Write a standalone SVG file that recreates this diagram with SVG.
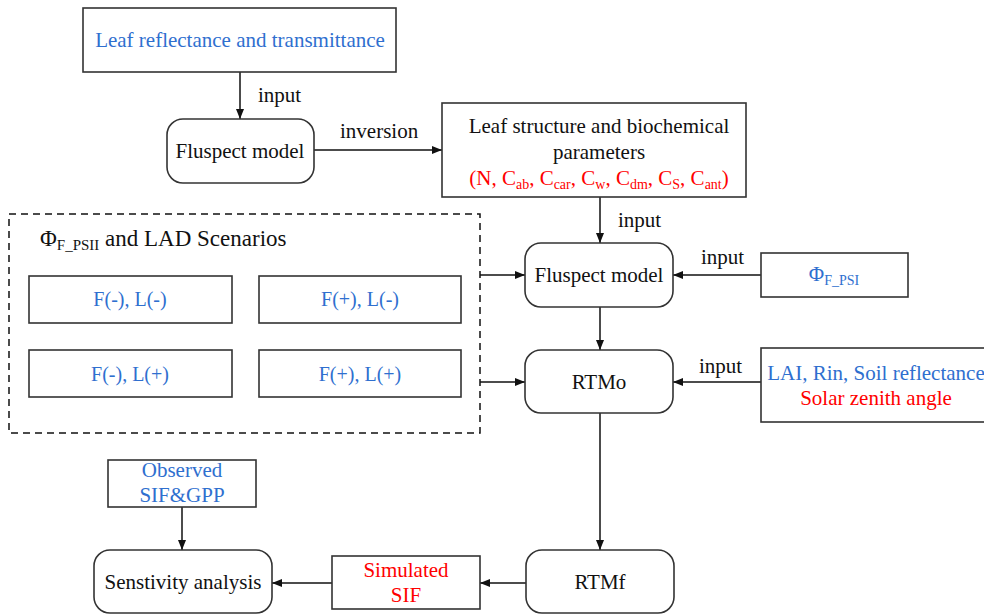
<svg xmlns="http://www.w3.org/2000/svg" width="984" height="615" viewBox="0 0 984 615">
<style>
text{font-family:"Liberation Serif","Times New Roman",serif;font-size:21px;fill:#111}
.b{fill:#2f6fcf}
.r{fill:#ff0000}
.m{text-anchor:middle}
.s20{font-size:20px}
.box{fill:#fff;stroke:#333;stroke-width:1.6}
.ln{fill:none;stroke:#111;stroke-width:1.5}
.sub{font-size:14px}
</style>
<defs>
<marker id="ah" viewBox="0 0 10 10" refX="10" refY="5" markerWidth="10" markerHeight="10" markerUnits="userSpaceOnUse" orient="auto">
<path d="M0,1 L10,5 L0,9 Z" fill="#111"/>
</marker>
</defs>
<g id="connectors">
<line class="ln" x1="240" y1="72" x2="240" y2="119" marker-end="url(#ah)"/>
<line class="ln" x1="314" y1="150" x2="442" y2="150" marker-end="url(#ah)"/>
<line class="ln" x1="600" y1="197" x2="600" y2="243" marker-end="url(#ah)"/>
<line class="ln" x1="600" y1="307" x2="600" y2="350" marker-end="url(#ah)"/>
<line class="ln" x1="480" y1="275" x2="525" y2="275" marker-end="url(#ah)"/>
<line class="ln" x1="480" y1="382" x2="525" y2="382" marker-end="url(#ah)"/>
<line class="ln" x1="761" y1="275" x2="673" y2="275" marker-end="url(#ah)"/>
<line class="ln" x1="761" y1="382" x2="673" y2="382" marker-end="url(#ah)"/>
<line class="ln" x1="600" y1="413" x2="600" y2="550" marker-end="url(#ah)"/>
<line class="ln" x1="182" y1="507" x2="182" y2="550" marker-end="url(#ah)"/>
<line class="ln" x1="526" y1="583" x2="480" y2="583" marker-end="url(#ah)"/>
<line class="ln" x1="332" y1="583" x2="272" y2="583" marker-end="url(#ah)"/>
<text x="258" y="102">input</text>
<text x="340" y="138">inversion</text>
<text x="618" y="227">input</text>
<text x="701" y="264">input</text>
<text x="699" y="373">input</text>
</g>
<g id="leaf-rt">
<rect class="box" x="83" y="8" width="313" height="64"/>
<text class="b m" x="240" y="47">Leaf reflectance and transmittance</text>
</g>
<g id="fluspect1">
<rect class="box" x="167" y="119" width="147" height="64" rx="16"/>
<text class="m" x="240" y="158">Fluspect model</text>
</g>
<g id="leaf-params">
<rect class="box" x="442" y="103" width="304" height="94"/>
<text class="m" x="599" y="133">Leaf structure and biochemical</text>
<text class="m" x="599" y="159">parameters</text>
<text class="r m" x="599" y="185">(N, C<tspan class="sub" dy="4">ab</tspan><tspan dy="-4">, C</tspan><tspan class="sub" dy="4">car</tspan><tspan dy="-4">, C</tspan><tspan class="sub" dy="4">w</tspan><tspan dy="-4">, C</tspan><tspan class="sub" dy="4">dm</tspan><tspan dy="-4">, C</tspan><tspan class="sub" dy="4">S</tspan><tspan dy="-4">, C</tspan><tspan class="sub" dy="4">ant</tspan><tspan dy="-4">)</tspan></text>
</g>
<g id="scenarios">
<rect x="9" y="214" width="471" height="219" fill="none" stroke="#111" stroke-width="1.5" stroke-dasharray="7,5"/>
<text x="40" y="246" style="font-size:23px">Φ<tspan class="sub" style="font-size:15px" dy="4">F_PSII</tspan><tspan dy="-4"> and LAD Scenarios</tspan></text>
</g>
<g id="s-mm">
<rect class="box" x="29" y="276" width="203" height="47"/>
<text class="b m s20" x="130" y="306">F(-), L(-)</text>
</g>
<g id="s-pm">
<rect class="box" x="259" y="276" width="202" height="47"/>
<text class="b m s20" x="360" y="306">F(+), L(-)</text>
</g>
<g id="s-mp">
<rect class="box" x="29" y="350" width="203" height="47"/>
<text class="b m s20" x="130" y="381">F(-), L(+)</text>
</g>
<g id="s-pp">
<rect class="box" x="259" y="350" width="202" height="47"/>
<text class="b m s20" x="360" y="381">F(+), L(+)</text>
</g>
<g id="fluspect2">
<rect class="box" x="525" y="243" width="148" height="64" rx="16"/>
<text class="m" x="599" y="282">Fluspect model</text>
</g>
<g id="phi-psi">
<rect class="box" x="761" y="253" width="147" height="44"/>
<text class="b m" x="834" y="281">Φ<tspan class="sub" dy="4">F_PSI</tspan></text>
</g>
<g id="rtmo">
<rect class="box" x="525" y="350" width="148" height="63" rx="16"/>
<text class="m" x="599" y="389">RTMo</text>
</g>
<g id="lai">
<rect class="box" x="761" y="348" width="235" height="74"/>
<text class="b m" x="876" y="380">LAI, Rin, Soil reflectance</text>
<text class="r m" x="876" y="405">Solar zenith angle</text>
</g>
<g id="observed">
<rect class="box" x="108" y="460" width="148" height="47"/>
<text class="b m" x="182" y="477">Observed</text>
<text class="b m" x="182" y="502">SIF&amp;GPP</text>
</g>
<g id="sensitivity">
<rect class="box" x="94" y="550" width="178" height="63" rx="16"/>
<text class="m" x="183" y="589">Senstivity analysis</text>
</g>
<g id="simulated">
<rect class="box" x="332" y="556" width="148" height="53"/>
<text class="r m" x="406" y="577">Simulated</text>
<text class="r m" x="406" y="602">SIF</text>
</g>
<g id="rtmf">
<rect class="box" x="526" y="550" width="148" height="63" rx="16"/>
<text class="m" x="600" y="589">RTMf</text>
</g>
</svg>
